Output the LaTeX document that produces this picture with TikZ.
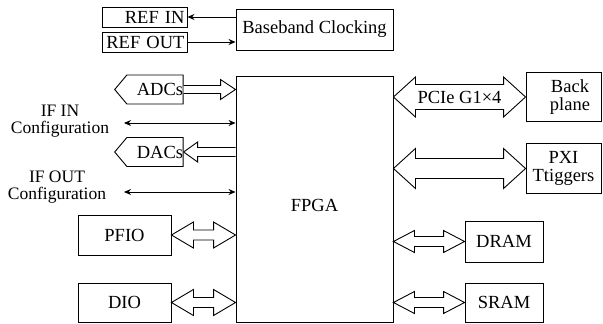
\documentclass[tikz,border=0pt]{standalone}
\usepackage{fontspec}
\setmainfont{Liberation Serif}
\usetikzlibrary{arrows.meta,calc,shapes.symbols}

% hollow double-headed arrow between two points (same height as the first)
% #3 shaft half width, #4 head half width, #5 head length
\newcommand\hollowdbl[5]{%
  \draw[hollow] let \p1=(#1), \p2=(#2) in
    (\x1,\y1) -- ({\x1+#5},{\y1+#4}) -- ({\x1+#5},{\y1+#3}) -- ({\x2-#5},{\y1+#3})
    -- ({\x2-#5},{\y1+#4}) -- (\x2,\y1) -- ({\x2-#5},{\y1-#4}) -- ({\x2-#5},{\y1-#3})
    -- ({\x1+#5},{\y1-#3}) -- ({\x1+#5},{\y1-#4}) -- cycle;}
% hollow single-headed arrow, head at the second point; #5 signed head length
\newcommand\hollowone[5]{%
  \draw[hollow] let \p1=(#1), \p2=(#2) in
    ({\x1},{\y1+#3}) -- ({\x2-(#5)},{\y1+#3}) -- ({\x2-(#5)},{\y1+#4}) -- (\x2,\y1)
    -- ({\x2-(#5)},{\y1-#4}) -- ({\x2-(#5)},{\y1-#3}) -- ({\x1},{\y1-#3});}

\tikzset{
  base/.style={font=\fontsize{18.5}{17.5}\selectfont},
  box/.style={base, draw, rectangle, inner sep=0pt, align=center},
  sig/.style={base, draw, signal, signal to=west, signal pointer angle=100,
    inner sep=0pt, minimum width=64pt, minimum height=29pt},
  cfg/.style={font=\fontsize{17.5}{17}\selectfont, align=center, inner sep=0pt},
  thin/.style={line width=0.9pt, {Stealth[length=7pt,width=6pt]}-{Stealth[length=7pt,width=6pt]}},
  onearrow/.style={line width=0.9pt, -{Stealth[length=7pt,width=6pt]}},
  hollow/.style={line width=0.9pt, line join=miter, fill=white},
}

\begin{document}
\begin{tikzpicture}[x=1pt,y=-1pt,line width=0.9pt]
\useasboundingbox (0,0) rectangle (603,324);

% clocking
\node[box, minimum width=85pt, minimum height=20pt, text width=80pt, align=right] (refin) at (144.5,17) {REF IN};
\node[box, minimum width=85pt, minimum height=20pt, text width=80pt, align=right] (refout) at (144.5,42) {REF OUT};
\node[box, minimum width=157pt, minimum height=41pt] (bb) at (314.5,29.5) {Baseband Clocking};
\draw[onearrow] (bb.west |- refin) -- (refin.east);
\draw[onearrow] (refout.east) -- (bb.west |- refout);

% FPGA
\node[box, minimum width=157pt, minimum height=246pt] (fpga) at (314.5,199) {};
\node[base] (fpgatext) at ([yshift=-6pt]fpga.center) {FPGA};

% left side
\node[sig] (adcs) at (155,89.5) {\hspace*{10pt}ADCs};
\node[sig] (dacs) at (155,152) {\hspace*{10pt}DACs};
\coordinate (adcsin) at (fpga.west |- adcs.east);
\coordinate (dacsout) at (fpga.west |- dacs.east);
\hollowone{adcs.east}{adcsin}{4pt}{10pt}{15pt}
\hollowone{dacsout}{dacs.east}{4.5pt}{10pt}{-14pt}

\node[cfg] (ifin) at (60,121) {IF IN\\Configuration};
\node[cfg] (ifout) at (57,187) {IF OUT\\Configuration};
\coordinate (ifinend) at (124,123);
\coordinate (ifoutend) at (124,192);
\draw[thin] (ifinend) -- (ifinend -| fpga.west);
\draw[thin] (ifoutend) -- (ifoutend -| fpga.west);

\node[box, minimum width=93pt, minimum height=40pt] (pfio) at (124.5,235) {PFIO};
\node[box, minimum width=93pt, minimum height=39pt] (dio) at (124.5,302.5) {DIO};
\coordinate (pfioin) at (fpga.west |- pfio.east);
\coordinate (dioin) at (fpga.west |- dio.east);
\hollowdbl{pfio.east}{pfioin}{5pt}{13pt}{22pt}
\hollowdbl{dio.east}{dioin}{5pt}{13pt}{22pt}

% right side
\node[box, minimum width=75pt, minimum height=49pt] (back) at (563.5,97) {};
\node[base, align=center, inner sep=0pt] (backtext) at (570,97) {Back\\plane};
\node[box, minimum width=75pt, minimum height=50pt] (pxi) at (563.5,168.5) {PXI\\Ttiggers};
\node[box, minimum width=78pt, minimum height=41pt] (dram) at (504,241.5) {DRAM};
\node[box, minimum width=78pt, minimum height=39pt] (sram) at (504,302.5) {SRAM};

\coordinate (backout) at (fpga.east |- back.west);
\coordinate (pxiout) at (fpga.east |- pxi.west);
\coordinate (dramout) at (fpga.east |- dram.west);
\coordinate (sramout) at (fpga.east |- sram.west);
\hollowdbl{backout}{back.west}{12.5pt}{20pt}{22pt}
\node[base] (pcie) at ($(backout)!0.5!(back.west)$) {PCIe G1×4};
\hollowdbl{pxiout}{pxi.west}{10pt}{20pt}{22pt}
\hollowdbl{dramout}{dram.west}{5pt}{11pt}{21pt}
\hollowdbl{sramout}{sram.west}{5pt}{11pt}{21pt}
\end{tikzpicture}
\end{document}
